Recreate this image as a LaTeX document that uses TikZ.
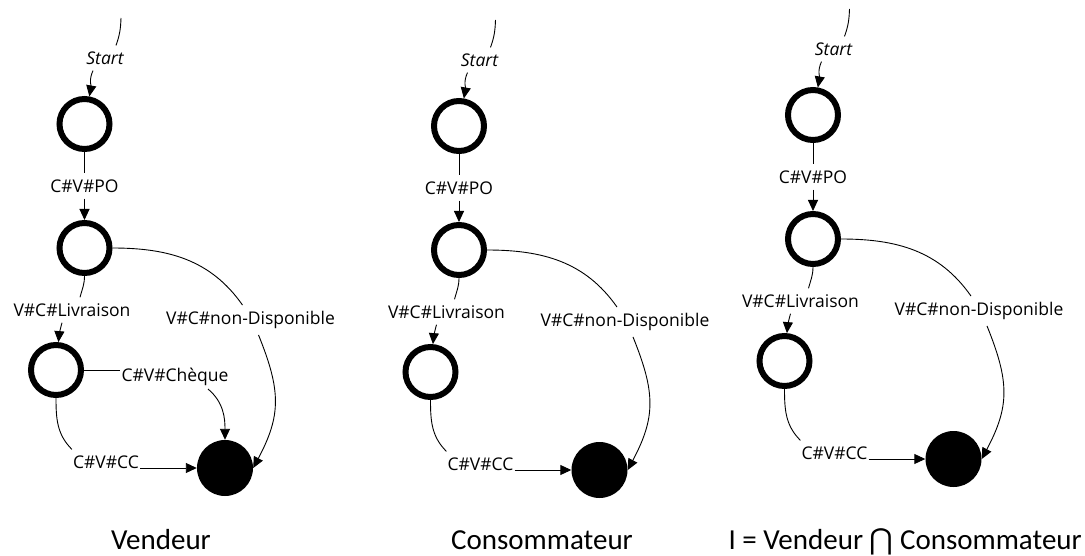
\documentclass[tikz,border=0pt]{standalone}
\usepackage{fontspec}
\usetikzlibrary{arrows.meta}
\newfontfamily\labelfont{Open Sans}
\newfontfamily\capfont{Carlito}
\newfontfamily\symfont{DejaVu Sans}

\tikzset{
  state/.style={circle, draw=black, line width=6pt, minimum size=50pt, inner sep=0pt},
  final/.style={circle, fill=black, minimum size=56pt, inner sep=0pt},
  lbl/.style={font=\labelfont\fontsize{17.5}{20}\selectfont, inner xsep=1pt, inner ysep=6pt},
  startlbl/.style={lbl, font=\labelfont\itshape\fontsize{17.5}{20}\selectfont},
  caption/.style={font=\capfont\fontsize{29}{34}\selectfont, anchor=base, inner sep=0pt},
  conn/.style={line width=0.9pt},
  arr/.style={conn, -{Triangle[length=11pt,width=10pt]}}
}

% one automaton (states, labels and transitions), names prefixed by #1
\newcommand\automaton[1]{%
  \coordinate (#1in) at (121,18);
  \node[startlbl] (#1start) at (105,58) {Start};
  \node[state] (#1s1) at (84.5,124) {};
  \node[lbl] (#1po) at (84.5,186) {C\#V\#PO};
  \node[state] (#1s2) at (84.5,248) {};
  \node[lbl] (#1liv) at (72,310) {V\#C\#Livraison};
  \node[state] (#1s3) at (56,370) {};
  \node[lbl] (#1nd) at (250.5,320) {V\#C\#non-Disponible};
  \node[lbl] (#1cc) at (106,462) {C\#V\#CC};
  \node[final] (#1f) at (225,468) {};
  % initial transition
  \draw[conn] (#1in) to[out=-92,in=70] ([xshift=11pt]#1start.north);
  \draw[arr] ([xshift=-12pt]#1start.south) to[out=-115,in=80] (#1s1);
  % C#V#PO
  \draw[conn] (#1s1) -- (#1po);
  \draw[arr] (#1po) -- (#1s2);
  % V#C#Livraison
  \draw[conn] (#1s2) to[out=-90,in=75] ([xshift=8pt]#1liv.north);
  \draw[arr] ([xshift=-10pt]#1liv.south) to[out=-105,in=85] (#1s3);
  % V#C#non-Disponible
  \draw[conn] (#1s2) to[out=0,in=125] ([xshift=-8pt]#1nd.north);
  \draw[arr] ([xshift=8pt]#1nd.south) to[out=-68,in=62,looseness=1.15] (#1f.east);
  % C#V#CC
  \draw[conn] (#1s3) to[out=-90,in=135] (#1cc.north west);
  \draw[arr] (#1cc.east |- #1f) -- (#1f);
}

\begin{document}
\begin{tikzpicture}[x=1pt,y=-1pt]
  \fill[white] (0,0) rectangle (1085,556);
  \useasboundingbox (0,0) rectangle (1085,556);

  % Vendeur
  \begin{scope}
    \automaton{v}
    \node[lbl] (vchq) at (175,377) {C\#V\#Chèque};
    \draw[conn] (vs3) -- (vs3 -| vchq.west);
    \draw[arr] ([xshift=33pt,yshift=3pt]vchq.south) to[out=-40,in=90] (vf);
  \end{scope}

  % Consommateur
  \begin{scope}[shift={(374.5,2)}]
    \automaton{c}
  \end{scope}

  % intersection
  \begin{scope}[shift={(728.5,-9)}]
    \automaton{i}
  \end{scope}

  \node[caption] (capv) at (161,549) {Vendeur};
  \node[caption] (capc) at (542,549) {Consommateur};
  \node[caption, anchor=base east] (capi) at (1082,549) {I = Vendeur {\symfont ⋂} Consommateur};
\end{tikzpicture}
\end{document}
